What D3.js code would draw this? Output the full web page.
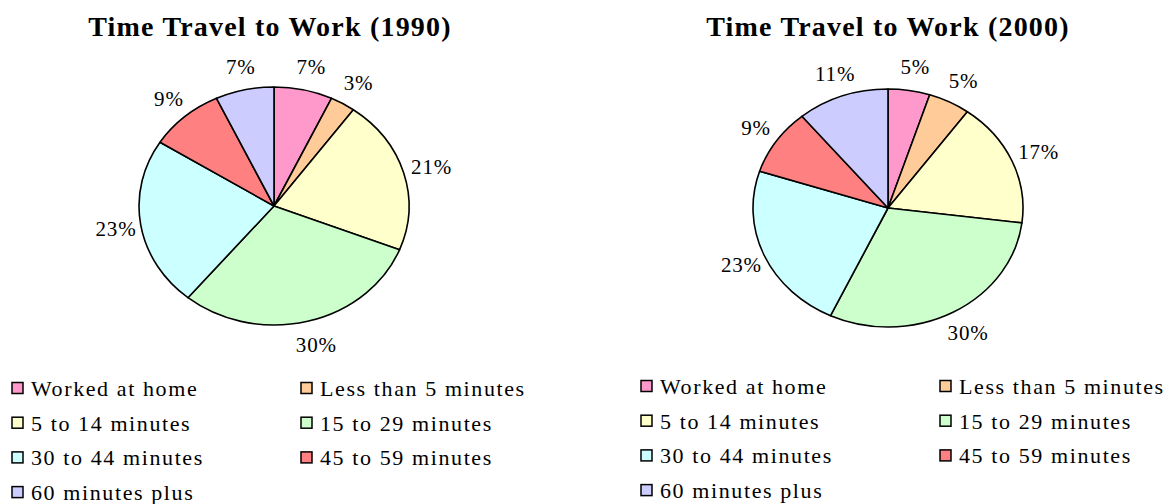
<!DOCTYPE html>
<html>
<head>
<meta charset="utf-8">
<script src="https://cdn.jsdelivr.net/npm/d3@7"></script>
<style>
  body { margin: 0; background: #fff; }
  svg { display: block; }
  text { font-family: "Liberation Serif", "Times New Roman", serif; fill: #000; }
</style>
</head>
<body>
<div id="chart"></div>
<script>
const categories = ['Worked at home', 'Less than 5 minutes', '5 to 14 minutes',
  '15 to 29 minutes', '30 to 44 minutes', '45 to 59 minutes', '60 minutes plus']
const values1990 = [7, 3, 21, 30, 23, 9, 7]
const values2000 = [5, 5, 17, 30, 23, 9, 11]
const colors = ['#FF99CC', '#FFCC99', '#FFFFCC', '#CCFFCC', '#CCFFFF', '#FF8080', '#CCCCFF']

const width = 1170, height = 504

const svg = d3.select('#chart')
  .append('svg')
  .attr('width', width)
  .attr('height', height)

const color = d3.scaleOrdinal().domain(categories).range(colors)

// one panel per year: pie is a little wider than tall, as in the original
const panels = [
  { title: 'Time Travel to Work (1990)', values: values1990, cx: 274, cy: 206, titleX: 270,
    legendX: 12, legendCol: 289, legendY: 388 },
  { title: 'Time Travel to Work (2000)', values: values2000, cx: 888, cy: 208, titleX: 888,
    legendX: 641, legendCol: 299, legendY: 386 }
]

const rx = 135, ry = 119

function drawPanel(p) {
  const g = svg.append('g')

  g.append('text')
    .attr('x', p.titleX)
    .attr('y', 36)
    .attr('text-anchor', 'middle')
    .attr('font-size', 28)
    .attr('font-weight', 'bold')
    .attr('letter-spacing', '1.2px')
    .text(p.title)

  const data = categories.map((c, i) => ({ name: c, value: p.values[i] }))
  const pie = d3.pie().sort(null).value(d => d.value)
  const arcs = pie(data)

  const arc = d3.arc().innerRadius(0).outerRadius(rx)
  const labelArc = d3.arc().innerRadius(rx * 1.2).outerRadius(rx * 1.2)

  const pieG = g.append('g')
    .attr('transform', `translate(${p.cx}, ${p.cy}) scale(1, ${ry / rx})`)

  pieG.selectAll('path')
    .data(arcs)
    .join('path')
    .attr('d', arc)
    .attr('fill', d => color(d.data.name))
    .attr('stroke', '#000')
    .attr('stroke-width', 1.6)
    .attr('stroke-linejoin', 'round')
    .attr('vector-effect', 'non-scaling-stroke')

  g.append('g')
    .attr('transform', `translate(${p.cx}, ${p.cy})`)
    .selectAll('text')
    .data(arcs)
    .join('text')
    .attr('x', d => labelArc.centroid(d)[0] + 2)
    .attr('y', d => labelArc.centroid(d)[1] * ry / rx)
    .attr('dy', '0.35em')
    .attr('text-anchor', 'middle')
    .attr('font-size', 21)
    .attr('letter-spacing', '0.8px')
    .text(d => d.data.value + '%')

  // legend, two columns
  const rowH = 34.7
  const items = g.append('g')
    .selectAll('g')
    .data(categories)
    .join('g')
    .attr('transform', (d, i) => `translate(${p.legendX + (i % 2) * p.legendCol}, ${p.legendY + Math.floor(i / 2) * rowH})`)

  items.append('rect')
    .attr('x', 0)
    .attr('y', -5.5)
    .attr('width', 11)
    .attr('height', 11)
    .attr('fill', d => color(d))
    .attr('stroke', '#000')
    .attr('stroke-width', 1.5)

  items.append('text')
    .attr('x', 19)
    .attr('y', 8)
    .attr('font-size', 22)
    .attr('letter-spacing', '1.6px')
    .text(d => d)
}

panels.forEach(drawPanel)
</script>
</body>
</html>
